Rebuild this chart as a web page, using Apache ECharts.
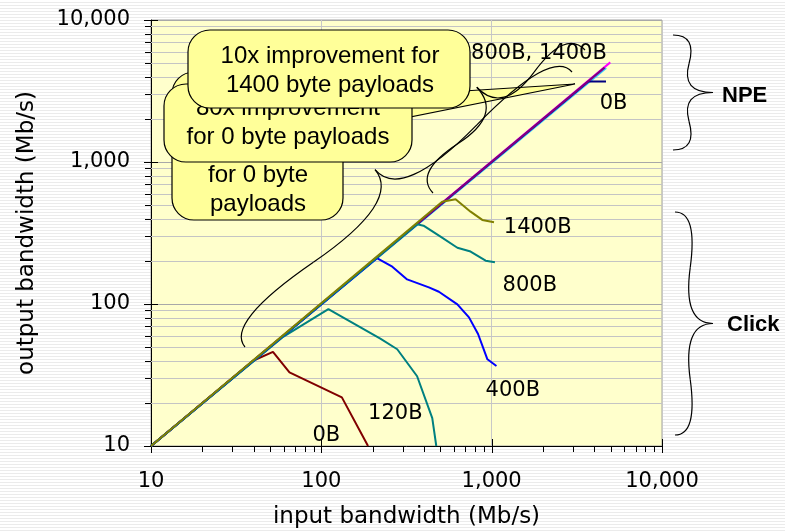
<!DOCTYPE html>
<html><head><meta charset="utf-8">
<script src="https://cdn.jsdelivr.net/npm/echarts@6/dist/echarts.min.js"></script>
<style>
html,body{margin:0;padding:0;}
body{background:repeating-linear-gradient(to bottom,#ffffff 0px,#ffffff 2px,#ebebeb 2px,#ebebeb 3px);}
#c{width:785px;height:531px;}
</style></head><body><div id="c"></div>
<script>
// ---- tick data ----
const majorTicks = [10, 100, 1000, 10000];
const xTickLabels = ['10', '100', '1,000', '10,000'];
const yTickLabels = ['10', '100', '1,000', '10,000'];
const minorTicks = [20, 30, 40, 50, 60, 70, 80, 90, 200, 300, 400, 500, 600, 700, 800, 900, 2000, 3000, 4000, 5000, 6000, 7000, 8000, 9000];

// ---- series data (input Mb/s, output Mb/s) ----
const npeCyanX = [10, 4700];
const npeCyanY = [10, 4600];
const npeMagentaX = [10, 4970];
const npeMagentaY = [10, 5030];
const npePurpleX = [10, 4600];
const npePurpleY = [10, 4620];
const npe0X = [10, 3700, 4690];
const npe0Y = [10, 3690, 3690];
const click0X = [10, 40, 52, 65, 132, 188];
const click0Y = [10, 40, 46, 33, 22, 10];
const click120X = [10, 60, 110, 222, 279, 365, 448, 473];
const click120Y = [10, 59, 92, 57, 48, 31, 15.7, 10];
const click400X = [10, 212, 261, 319, 428, 490, 629, 736, 832, 944, 1067];
const click400Y = [10, 210, 183, 149, 131, 122, 99.5, 80.5, 61.5, 40.8, 36.6];
const click800X = [10, 365, 398, 501, 629, 752, 922, 1045];
const click800Y = [10, 364, 356, 298, 249, 234, 202, 197];
const click1400X = [10, 512, 614, 752, 881, 1032];
const click1400Y = [10, 525, 546, 447, 391, 376];

// ---- curve labels ----
const labelTexts = ['1400B', '800B', '400B', '120B', '0B', '0B', '800B, 1400B'];
const labelX = [1863, 1675, 1331, 272, 107, 5200, 4742];
const labelY = [343, 134, 24.4, 16.8, 11.9, 2560, 5770];
const labelAlign = ['center', 'center', 'center', 'center', 'center', 'center', 'right'];

function zip(xs, ys) { return xs.map((x, i) => [x, ys[i]]); }
function tickIdx(v) { return Math.round(Math.log10(v)) - 1; }

const chart = echarts.init(document.getElementById('c'), null, {renderer: 'canvas'});

function line(name, xs, ys, color, z) {
  return {type: 'line', name, data: zip(xs, ys), showSymbol: false, symbol: 'none',
    lineStyle: {color, width: 2}, itemStyle: {color}, z: z, animation: false, silent: true};
}

// brace built from 4 quadratic curves
function brace(ax, ay, bx, by, w, nx, ny, q) {
  q = q || 0.6;
  const L = Math.hypot(bx - ax, by - ay);
  const ux = (bx - ax) / L, uy = (by - ay) / L;
  const P = (s, t) => [ax + ux * s + nx * t, ay + uy * s + ny * t];
  const Q1 = [ax + nx * q * w, ay + ny * q * w];
  const Q2 = P(0.25 * L, (1 - q) * w);
  const T = P(0.5 * L, w);
  const Q3 = [bx + nx * q * w, by + ny * q * w];
  const Q4 = P(0.75 * L, (1 - q) * w);
  const st = {stroke: '#000', lineWidth: 1.2, fill: null};
  const seg = (s, c, e) => ({type: 'bezierCurve', z: 60, silent: true,
    shape: {x1: s[0], y1: s[1], cpx1: c[0], cpy1: c[1], x2: e[0], y2: e[1]}, style: st});
  return [
    seg([ax, ay], Q1, Q2),
    seg(Q2, [2 * Q2[0] - Q1[0], 2 * Q2[1] - Q1[1]], T),
    seg([bx, by], Q3, Q4),
    seg(Q4, [2 * Q4[0] - Q3[0], 2 * Q4[1] - Q3[1]], T)
  ];
}

function callout(x, y, w, h, lines, cx, firstY, z) {
  const els = [{type: 'rect', z: z, silent: true, shape: {x, y, width: w, height: h, r: 22},
    style: {fill: '#FFFF99', stroke: '#000', lineWidth: 1.2}}];
  lines.forEach((t, i) => els.push({type: 'text', z: z, silent: true,
    style: {text: t, x: cx, y: firstY + i * 29, textAlign: 'center', textVerticalAlign: 'middle',
      font: '24px "Liberation Sans", Arial, sans-serif', fill: '#000'}}));
  return els;
}

const d1 = Math.hypot(327, 275);
const d2 = Math.hypot(152, 143);
const graphics = [].concat(
  callout(172, 72, 171, 148, ['for 0 byte', 'payloads'], 258, 175, 50),
  [{type: 'polygon', z: 51, silent: true, shape: {points: [[400, 95], [575, 84], [400, 119]]},
    style: {fill: '#FFFF99', stroke: '#000', lineWidth: 1.2}}],
  callout(164, 84, 248, 78, ['80x improvement', 'for 0 byte payloads'], 288, 108, 52),
  brace(245, 347, 572, 72, 52, -275 / d1, -327 / d1),
  brace(433, 193, 585, 50, 47, -143 / d2, -152 / d2),
  callout(188, 30, 282, 78, ['10x improvement for', '1400 byte payloads'], 330, 56, 70),
  brace(673, 35, 673, 150, 40, 1, 0),
  brace(675, 212, 675, 435, 38, 1, 0),
  [{type: 'text', z: 60, style: {text: 'NPE', x: 722, y: 96, textVerticalAlign: 'middle',
      font: 'bold 22px "Liberation Sans", Arial, sans-serif', fill: '#000'}},
   {type: 'text', z: 60, style: {text: 'Click', x: 727, y: 325, textVerticalAlign: 'middle',
      font: 'bold 22px "Liberation Sans", Arial, sans-serif', fill: '#000'}}]
);

const tickFont = {fontFamily: 'DejaVu Sans', fontSize: 21, color: '#000'};

const option = {
  animation: false,
  grid: {left: 151, right: 123, top: 20, bottom: 85, show: true, backgroundColor: '#FFFFCC',
    borderColor: '#A0A0A0', borderWidth: 1, containLabel: false, outerBoundsMode: 'none'},
  xAxis: {type: 'log', logBase: 10, min: 10, max: 10000,
    name: 'input bandwidth (Mb/s)', nameLocation: 'middle', nameGap: 60,
    nameTextStyle: {fontFamily: 'DejaVu Sans', fontSize: 23, color: '#000'},
    axisLine: {lineStyle: {color: '#000', width: 1}}, axisTick: {show: false},
    axisLabel: Object.assign({margin: 25, formatter: v => xTickLabels[tickIdx(v)]}, tickFont),
    splitLine: {show: true, lineStyle: {color: '#C8C8C8', width: 1}}, minorTick: {show: false}},
  yAxis: {type: 'log', logBase: 10, min: 10, max: 10000,
    name: 'output bandwidth (Mb/s)', nameLocation: 'middle', nameGap: 112,
    nameTextStyle: {fontFamily: 'DejaVu Sans', fontSize: 23, color: '#000'},
    axisLine: {lineStyle: {color: '#000', width: 1}}, axisTick: {show: false},
    axisLabel: Object.assign({margin: 21, formatter: v => yTickLabels[tickIdx(v)]}, tickFont),
    splitLine: {show: true, lineStyle: {color: '#A8A8A8', width: 1}}},
  graphic: graphics,
  series: [
    {type: 'custom', name: 'yMinor', clip: false, z: 1, silent: true,
      data: minorTicks.map(v => [10, v]),
      renderItem: (p, api) => {
        const a = api.coord([10, api.value(1)]), b = api.coord([10000, api.value(1)]);
        const y = Math.round(a[1]) + 0.5;
        return {type: 'group', children: [
          {type: 'line', shape: {x1: a[0], y1: y, x2: b[0], y2: y}, style: {stroke: '#C4C4C4', lineWidth: 1}},
          {type: 'line', shape: {x1: a[0] - 6, y1: y, x2: a[0], y2: y}, style: {stroke: '#000', lineWidth: 1}}]};
      }},
    {type: 'custom', name: 'xMinor', clip: false, z: 1, silent: true,
      data: minorTicks.map(v => [v, 10]),
      renderItem: (p, api) => {
        const a = api.coord([api.value(0), 10]);
        const x = Math.round(a[0]) + 0.5;
        return {type: 'line', shape: {x1: x, y1: a[1], x2: x, y2: a[1] + 6}, style: {stroke: '#000', lineWidth: 1}};
      }},
    {type: 'custom', name: 'majorTicks', clip: false, z: 3, silent: true,
      data: majorTicks.map(v => [v, v]),
      renderItem: (p, api) => {
        const ay = api.coord([10, api.value(1)]);
        const ax = api.coord([api.value(0), 10]);
        const y = Math.round(ay[1]) + 0.5, x = Math.round(ax[0]) + 0.5;
        return {type: 'group', children: [
          {type: 'line', shape: {x1: ay[0] - 7, y1: y, x2: ay[0] + 7, y2: y}, style: {stroke: '#000', lineWidth: 1}},
          {type: 'line', shape: {x1: x, y1: ax[1] - 7, x2: x, y2: ax[1] + 7}, style: {stroke: '#000', lineWidth: 1}}]};
      }},
    line('NPE 800B', npeCyanX, npeCyanY, '#33CCFF', 4),
    line('NPE 1400B', npeMagentaX, npeMagentaY, '#FF00FF', 5),
    line('NPE 0B', npe0X, npe0Y, '#000080', 6),
    line('NPE 400B', npePurpleX, npePurpleY, '#800080', 7),
    line('Click 0B', click0X, click0Y, '#800000', 8),
    line('Click 120B', click120X, click120Y, '#008080', 9),
    line('Click 400B', click400X, click400Y, '#0000FF', 10),
    line('Click 800B', click800X, click800Y, '#008080', 11),
    line('Click 1400B', click1400X, click1400Y, '#808000', 12),
    {type: 'scatter', name: 'labels', z: 20, silent: true, symbolSize: 0,
      itemStyle: {opacity: 1, color: '#000'},
      data: labelTexts.map((t, i) => ({value: [labelX[i], labelY[i]], name: t,
        label: {show: true, position: 'inside', formatter: t, align: labelAlign[i], verticalAlign: 'middle',
          fontFamily: 'DejaVu Sans', fontSize: 21, color: '#000', opacity: 1,
          textBorderWidth: 0, textBorderColor: 'transparent'}}))}
  ]
};
chart.setOption(option);
</script></body></html>
